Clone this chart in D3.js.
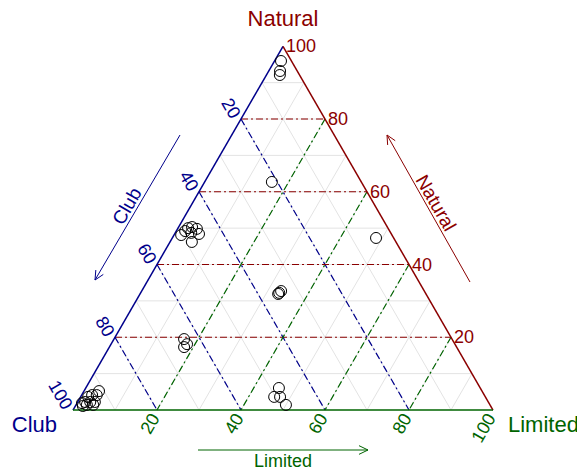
<!DOCTYPE html>
<html>
<head>
<meta charset="utf-8">
<style>
  body { margin: 0; background: #fff; }
  text { font-family: "Liberation Sans", Arial, sans-serif; }
</style>
</head>
<body>
<div id="chart"></div>
<script src="https://d3js.org/d3.v7.min.js"></script>
<script>
// compositions in percent, one entry per observation
var clubVals = [2.5, 4.1, 4.7, 21.3, 4.2,
  50.2, 47.6, 46.5, 45.6, 47.5, 45.8, 48.6, 48.7,
  34.1, 34.8, 35.2, 63.8, 63.8, 64.9,
  47.95, 50.3, 48.9, 48.6,
  91.2, 92.3, 93.4, 94.6, 96, 94.8, 93.7, 96, 94.5, 97.1, 96.9];
var limitedVals = [1.55, 2.7, 3.2, 16.0, 48.5,
  1.7, 2.4, 3.2, 4.6, 3.8, 5.8, 5.2, 2.1,
  33.2, 33.0, 32.9, 16.7, 18.1, 17.8,
  46.0, 46.1, 47.5, 50.0,
  3.6, 3.6, 2.5, 1.8, 1.8, 3.0, 4.1, 2.6, 4.1, 1.8, 1.2];
var naturalVals = clubVals.map(function(c, i) { return 100 - c - limitedVals[i]; });

var tickVals = [20, 40, 60, 80, 100];
var gridVals = [10, 20, 30, 40, 50, 60, 70, 80, 90];
var dashVals = [20, 40, 60, 80];

var W = 577, H = 470;
var colNat = "#8B0000", colClub = "#00008B", colLim = "#006400";

var x0 = 73, side = 420, yBase = 410;
var triH = side * Math.sqrt(3) / 2;

// x from (limited + natural/2), y from natural
var xs = d3.scaleLinear().domain([0, 100]).range([x0, x0 + side]);
var ys = d3.scaleLinear().domain([0, 100]).range([yBase, yBase - triH]);

function pt(club, lim, nat) {
  return [xs(lim + nat / 2), ys(nat)];
}

var svg = d3.select("#chart").append("svg")
  .attr("width", W).attr("height", H);

var line = d3.line();

// light grid
var grid = svg.append("g").attr("stroke", "#e3e3e3").attr("stroke-width", 1).attr("fill", "none");
gridVals.forEach(function(v) {
  grid.append("path").attr("d", line([pt(100 - v, 0, v), pt(0, 100 - v, v)]));
  grid.append("path").attr("d", line([pt(v, 0, 100 - v), pt(v, 100 - v, 0)]));
  grid.append("path").attr("d", line([pt(0, v, 100 - v), pt(100 - v, v, 0)]));
});

// dot-dash reference lines
var dash = "7,3,2,3";
dashVals.forEach(function(v) {
  svg.append("path").attr("d", line([pt(100 - v, 0, v), pt(0, 100 - v, v)]))
    .attr("stroke", colNat).attr("stroke-width", 1.2).attr("stroke-dasharray", dash).attr("fill", "none");
  svg.append("path").attr("d", line([pt(v, 0, 100 - v), pt(v, 100 - v, 0)]))
    .attr("stroke", colClub).attr("stroke-width", 1.2).attr("stroke-dasharray", dash).attr("fill", "none");
  svg.append("path").attr("d", line([pt(0, v, 100 - v), pt(100 - v, v, 0)]))
    .attr("stroke", colLim).attr("stroke-width", 1.2).attr("stroke-dasharray", dash).attr("fill", "none");
});

// triangle edges
svg.append("path").attr("d", line([pt(100, 0, 0), pt(0, 0, 100)]))
  .attr("stroke", colClub).attr("stroke-width", 1.5);
svg.append("path").attr("d", line([pt(0, 0, 100), pt(0, 100, 0)]))
  .attr("stroke", colNat).attr("stroke-width", 1.5);
svg.append("path").attr("d", line([pt(100, 0, 0), pt(0, 100, 0)]))
  .attr("stroke", colLim).attr("stroke-width", 1.5);

// tick labels
tickVals.forEach(function(v) {
  var p = pt(0, 100 - v, v);
  svg.append("text").attr("x", p[0] + 3).attr("y", p[1])
    .attr("dominant-baseline", "central").attr("fill", colNat)
    .attr("font-size", 18).text(v);

  var q = pt(v, 0, 100 - v);
  svg.append("text")
    .attr("transform", "translate(" + (q[0] - 5) + "," + (q[1] - 2) + ") rotate(60)")
    .attr("text-anchor", "end").attr("dominant-baseline", "central")
    .attr("fill", colClub).attr("font-size", 18).text(v);

  var r = pt(100 - v, v, 0);
  svg.append("text")
    .attr("transform", "translate(" + (r[0] - 2) + "," + (r[1] + 5) + ") rotate(-60)")
    .attr("text-anchor", "end").attr("dominant-baseline", "central")
    .attr("fill", colLim).attr("font-size", 18).text(v);
});

// corner titles
var apex = pt(0, 0, 100), lft = pt(100, 0, 0), rgt = pt(0, 100, 0);
svg.append("text").attr("x", apex[0]).attr("y", apex[1] - 20)
  .attr("text-anchor", "middle").attr("fill", colNat).attr("font-size", 22).text("Natural");
svg.append("text").attr("x", lft[0] - 16).attr("y", lft[1] + 22)
  .attr("text-anchor", "end").attr("fill", colClub).attr("font-size", 22).text("Club");
svg.append("text").attr("x", rgt[0] + 15).attr("y", rgt[1] + 22)
  .attr("fill", colLim).attr("font-size", 22).text("Limited");

// direction arrows
function arrow(a, b, col) {
  svg.append("path").attr("d", line([a, b])).attr("stroke", col).attr("fill", "none");
  var ang = Math.atan2(b[1] - a[1], b[0] - a[0]), len = 10, spread = Math.PI / 7;
  var h1 = [b[0] - len * Math.cos(ang - spread), b[1] - len * Math.sin(ang - spread)];
  var h2 = [b[0] - len * Math.cos(ang + spread), b[1] - len * Math.sin(ang + spread)];
  svg.append("path").attr("d", line([h1, b, h2])).attr("stroke", col).attr("fill", "none");
}
arrow([180, 135], [95, 280], colClub);
arrow([470, 282], [387, 135], colNat);
arrow([198, 450], [368, 450], colLim);

svg.append("text").attr("transform", "translate(127,206) rotate(-60)")
  .attr("text-anchor", "middle").attr("dominant-baseline", "central")
  .attr("fill", colClub).attr("font-size", 19).text("Club");
svg.append("text").attr("transform", "translate(436,203) rotate(60)")
  .attr("text-anchor", "middle").attr("dominant-baseline", "central")
  .attr("fill", colNat).attr("font-size", 19).text("Natural");
svg.append("text").attr("x", 283).attr("y", 461)
  .attr("text-anchor", "middle").attr("dominant-baseline", "central")
  .attr("fill", colLim).attr("font-size", 18).text("Limited");

// observations
svg.append("g").selectAll("circle")
  .data(clubVals.map(function(c, i) { return pt(c, limitedVals[i], naturalVals[i]); }))
  .join("circle")
    .attr("cx", function(d) { return d[0]; })
    .attr("cy", function(d) { return d[1]; })
    .attr("r", 5.5)
    .attr("fill", "none")
    .attr("stroke", "#000")
    .attr("stroke-width", 1);
</script>
</body>
</html>
